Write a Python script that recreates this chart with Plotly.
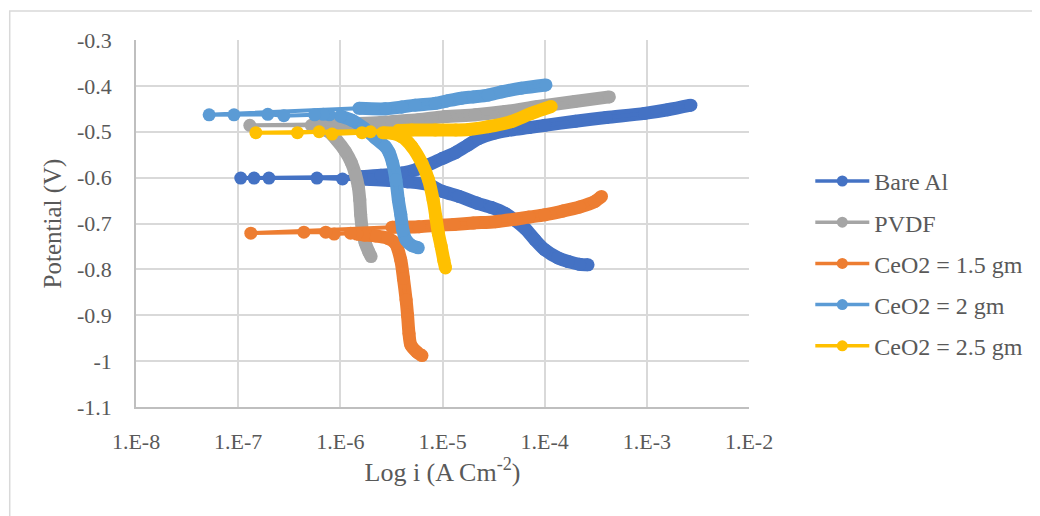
import plotly.graph_objects as go

# ---- axis ticks ----
x_tickvals = [1e-8, 1e-7, 1e-6, 1e-5, 1e-4, 1e-3, 1e-2]
x_ticktext = ["1.E-8", "1.E-7", "1.E-6", "1.E-5", "1.E-4", "1.E-3", "1.E-2"]
y_tickvals = [-1.1, -1.0, -0.9, -0.8, -0.7, -0.6, -0.5, -0.4, -0.3]
y_ticktext = ["-1.1", "-1", "-0.9", "-0.8", "-0.7", "-0.6", "-0.5", "-0.4", "-0.3"]

series_names = ["Bare Al", "PVDF", "CeO2 = 1.5 gm", "CeO2 = 2 gm", "CeO2 = 2.5 gm"]
series_colors = ["#4472C4", "#A5A5A5", "#ED7D31", "#5B9BD5", "#FFC000"]

# ---- Bare Al ----
bare_cath_i = [2.66e-4, 2.2e-4, 1.7e-4, 1.35e-4, 1.0e-4, 8.0e-5, 6.5e-5, 5.2e-5, 4.1e-5, 3.0e-5,
               2.2e-5, 1.45e-5, 1.0e-5, 7.2e-6, 4.5e-6, 3.0e-6, 2.0e-6, 1.5e-6]
bare_cath_e = [-0.790, -0.789, -0.783, -0.775, -0.757, -0.735, -0.712, -0.694, -0.678, -0.665,
               -0.656, -0.641, -0.630, -0.615, -0.609, -0.606, -0.604, -0.603]
bare_min_i = [1.05e-6, 5.9e-7, 2.0e-7, 1.43e-7, 1.06e-7]
bare_min_e = [-0.603, -0.601, -0.601, -0.601, -0.601]
bare_anod_i = [1.6e-6, 2.5e-6, 4.0e-6, 5.6e-6, 7.3e-6, 1.0e-5, 1.35e-5, 1.75e-5, 2.25e-5, 3.2e-5,
               4.7e-5, 7.0e-5, 1.0e-4, 2.0e-4, 4.0e-4, 9.5e-4, 1.6e-3, 2.7e-3]
bare_anod_e = [-0.598, -0.595, -0.590, -0.582, -0.572, -0.558, -0.545, -0.530, -0.515, -0.503,
               -0.496, -0.491, -0.486, -0.477, -0.469, -0.460, -0.452, -0.442]

# ---- PVDF ----
pvdf_cath_i = [2.0e-6, 1.9e-6, 1.75e-6, 1.65e-6, 1.58e-6, 1.55e-6, 1.5e-6, 1.41e-6, 1.28e-6,
               1.12e-6, 9.2e-7, 7.7e-7, 6.2e-7, 5.2e-7]
pvdf_cath_e = [-0.772, -0.762, -0.742, -0.718, -0.680, -0.649, -0.620, -0.594, -0.567,
               -0.543, -0.518, -0.500, -0.490, -0.486]
pvdf_min_i = [1.3e-7]
pvdf_min_e = [-0.486]
pvdf_anod_i = [5.5e-7, 1.5e-6, 2.5e-6, 3.2e-6, 5.8e-6, 1.05e-5, 2.1e-5, 4.1e-5, 8.6e-5, 1.97e-4, 4.3e-4]
pvdf_anod_e = [-0.484, -0.482, -0.480, -0.478, -0.474, -0.467, -0.463, -0.456, -0.445, -0.434, -0.424]

# ---- CeO2 = 1.5 gm ----
c15_cath_i = [6.3e-6, 5.6e-6, 4.9e-6, 4.7e-6, 4.55e-6, 4.4e-6, 4.15e-6, 3.9e-6, 3.45e-6, 2.9e-6,
              2.2e-6, 1.7e-6, 1.45e-6]
c15_cath_e = [-0.988, -0.980, -0.965, -0.940, -0.900, -0.866, -0.820, -0.779, -0.743, -0.732,
              -0.727, -0.725, -0.723]
c15_min_i = [1.26e-6, 8.7e-7, 7.2e-7, 4.4e-7, 1.33e-7]
c15_min_e = [-0.721, -0.723, -0.719, -0.719, -0.721]
c15_anod_i = [3.2e-6, 5.9e-6, 9.0e-6, 1.3e-5, 2.0e-5, 3.3e-5, 5.0e-5, 7.0e-5, 1.0e-4, 1.5e-4,
              2.2e-4, 3.1e-4, 3.6e-4]
c15_anod_e = [-0.708, -0.707, -0.704, -0.702, -0.699, -0.696, -0.691, -0.686, -0.681, -0.673,
              -0.664, -0.652, -0.641]

# ---- CeO2 = 2 gm ----
c20_cath_i = [5.8e-6, 5.0e-6, 4.4e-6, 4.1e-6, 3.9e-6, 3.7e-6, 3.5e-6, 3.25e-6, 3.0e-6, 2.75e-6,
              2.2e-6, 1.7e-6, 1.3e-6, 1.0e-6]
c20_cath_e = [-0.753, -0.748, -0.736, -0.715, -0.680, -0.649, -0.605, -0.568, -0.545, -0.532,
              -0.514, -0.492, -0.475, -0.466]
c20_min_i = [7.8e-7, 6.8e-7, 5.6e-7, 2.8e-7, 1.95e-7, 9.1e-8, 5.2e-8]
c20_min_e = [-0.463, -0.462, -0.463, -0.465, -0.462, -0.463, -0.463]
c20_anod_i = [1.52e-6, 2.76e-6, 4.0e-6, 5.4e-6, 8.5e-6, 1.1e-5, 1.53e-5, 2.0e-5, 2.8e-5, 3.8e-5,
              5.9e-5, 1.03e-4]
c20_anod_e = [-0.449, -0.450, -0.446, -0.442, -0.438, -0.433, -0.427, -0.424, -0.420, -0.413,
              -0.405, -0.398]

# ---- CeO2 = 2.5 gm ----
c25_cath_i = [1.07e-5, 1.03e-5, 9.7e-6, 9.1e-6, 8.6e-6, 8.1e-6, 7.3e-6, 6.3e-6, 5.0e-6, 4.0e-6,
              3.2e-6, 2.6e-6]
c25_cath_e = [-0.797, -0.780, -0.750, -0.721, -0.685, -0.649, -0.605, -0.569, -0.532, -0.511,
              -0.503, -0.502]
c25_min_i = [1.97e-6, 1.63e-6, 8.3e-7, 6.2e-7, 3.8e-7, 1.49e-7]
c25_min_e = [-0.500, -0.502, -0.505, -0.500, -0.502, -0.502]
c25_anod_i = [3.7e-6, 5.0e-6, 8.5e-6, 1.35e-5, 1.8e-5, 2.8e-5, 4.7e-5, 7.4e-5, 1.16e-4]
c25_anod_e = [-0.497, -0.496, -0.496, -0.496, -0.495, -0.489, -0.478, -0.460, -0.445]

data = [
    (bare_cath_i, bare_cath_e, bare_min_i, bare_min_e, bare_anod_i, bare_anod_e),
    (pvdf_cath_i, pvdf_cath_e, pvdf_min_i, pvdf_min_e, pvdf_anod_i, pvdf_anod_e),
    (c15_cath_i, c15_cath_e, c15_min_i, c15_min_e, c15_anod_i, c15_anod_e),
    (c20_cath_i, c20_cath_e, c20_min_i, c20_min_e, c20_anod_i, c20_anod_e),
    (c25_cath_i, c25_cath_e, c25_min_i, c25_min_e, c25_anod_i, c25_anod_e),
]

fig = go.Figure()
for k, (name, color, (ci, ce, mi, me, ai, ae)) in enumerate(zip(series_names, series_colors, data)):
    # dense branches drawn as thick bands
    for bi, be in ((ci, ce), (ai, ae)):
        fig.add_trace(go.Scatter(x=bi, y=be, mode="lines",
                                 line=dict(color=color, width=13, shape="spline", smoothing=0.8),
                                 showlegend=False, hoverinfo="skip"))
    # all points with markers and thin connecting line
    fig.add_trace(go.Scatter(x=ci + mi + ai, y=ce + me + ae, mode="lines+markers",
                             line=dict(color=color, width=4),
                             marker=dict(size=13, color=color),
                             showlegend=False, name=name))
    # legend entry
    fig.add_trace(go.Scatter(x=[None], y=[None], mode="lines+markers", name=name,
                             legendgroup="g%d" % k,
                             line=dict(color=color, width=3.5),
                             marker=dict(size=11, color=color)))

font_family = "Liberation Serif, Times New Roman, serif"
text_color = "#595959"

# page body has an 8px margin, so the figure is 8px smaller than the window
fig.update_layout(
    width=1032, height=508,
    margin=dict(l=128, r=288, t=32, b=109),
    paper_bgcolor="white", plot_bgcolor="white",
    font=dict(family=font_family, color=text_color, size=22),
    legend=dict(x=1.1, y=0.676, xanchor="left", yanchor="top",
                font=dict(size=24, family=font_family, color=text_color),
                bgcolor="rgba(0,0,0,0)", tracegroupgap=7, itemwidth=54),
    showlegend=True,
    shapes=[dict(type="rect", xref="paper", yref="paper",
                 x0=-0.206, x1=1.48, y0=-0.31, y1=1.079,
                 line=dict(color="#D9D9D9", width=1.5), fillcolor="rgba(0,0,0,0)", layer="below")],
)
fig.update_xaxes(type="log", range=[-8, -2], tickvals=x_tickvals, ticktext=x_ticktext,
                 showgrid=True, gridcolor="#D9D9D9", gridwidth=1.5,
                 showline=True, linecolor="#BFBFBF", linewidth=1.5,
                 ticks="", ticklabelstandoff=14,
                 tickfont=dict(size=22, family=font_family, color=text_color),
                 title=dict(text="Log i (A Cm<sup>-2</sup>)", standoff=8,
                            font=dict(size=26, family=font_family, color=text_color)))
fig.update_yaxes(range=[-1.1, -0.3], tickvals=y_tickvals, ticktext=y_ticktext,
                 showgrid=True, gridcolor="#D9D9D9", gridwidth=1.5, zeroline=False,
                 showline=True, linecolor="#BFBFBF", linewidth=1.5,
                 ticks="", ticklabelstandoff=18,
                 tickfont=dict(size=22, family=font_family, color=text_color),
                 title=dict(text="Potential (V)", standoff=8,
                            font=dict(size=25, family=font_family, color=text_color)))

fig.write_html("out.html")
